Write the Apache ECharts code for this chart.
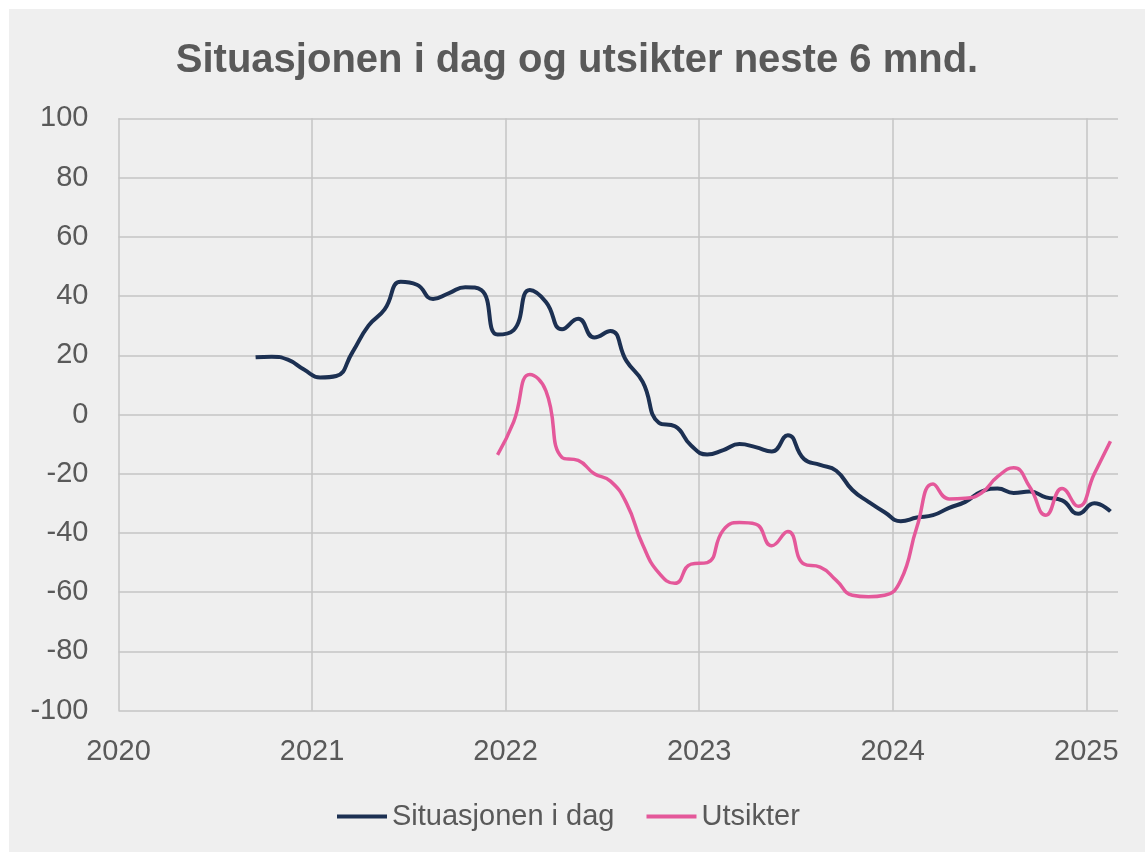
<!DOCTYPE html>
<html>
<head>
<meta charset="utf-8">
<script src="https://cdn.jsdelivr.net/npm/echarts@6/dist/echarts.min.js"></script>
<style>
  html, body { margin: 0; padding: 0; background: #ffffff; }
  #chart { position: absolute; left: 9px; top: 9px; width: 1136px; height: 843px; }
</style>
</head>
<body>
<div id="chart"></div>
<script>
// måneder og verdier lest av figuren
const dagMonths = [
  '2020-09','2020-10','2020-11','2020-12',
  '2021-01','2021-02','2021-03','2021-04','2021-05','2021-06','2021-07','2021-08','2021-09','2021-10','2021-11','2021-12',
  '2022-01','2022-02','2022-03','2022-04','2022-05','2022-06','2022-07','2022-08','2022-09','2022-10','2022-11','2022-12',
  '2023-01','2023-02','2023-03','2023-04','2023-05','2023-06','2023-07','2023-08','2023-09','2023-10','2023-11','2023-12',
  '2024-01','2024-02','2024-03','2024-04','2024-05','2024-06','2024-07','2024-08','2024-09','2024-10','2024-11','2024-12',
  '2025-01','2025-02'
]
const dagValues = [
  19.3, 19.5, 18.5, 15.2,
  12.5, 13, 21, 30, 35.5, 44.8, 43.8, 39, 41, 43, 42, 27,
  28.5, 42, 38, 28.8, 32.3, 26, 28.2, 18, 11, -2.8, -4, -10.5,
  -13.5, -12, -10, -11, -12.5, -7, -15, -17, -19, -25.5, -29.5, -33,
  -36, -34.8, -34, -31.5, -29.5, -26, -25, -26.5, -26, -28, -29, -33.5,
  -30, -32.7
]
const utsiktMonths = [
  '2021-12',
  '2022-01','2022-02','2022-03','2022-04','2022-05','2022-06','2022-07','2022-08','2022-09','2022-10','2022-11','2022-12',
  '2023-01','2023-02','2023-03','2023-04','2023-05','2023-06','2023-07','2023-08','2023-09','2023-10','2023-11','2023-12',
  '2024-01','2024-02','2024-03','2024-04','2024-05','2024-06','2024-07','2024-08','2024-09','2024-10','2024-11','2024-12',
  '2025-01','2025-02'
]
const utsiktValues = [
  -13.6,
  -2.5, 13.5, 8, -14.5, -15.5, -20, -22.5, -30, -44, -53.5, -57, -50.5,
  -50, -39, -36.5, -37, -44.3, -39.5, -50.5, -51.5, -56, -61, -61.5, -61,
  -56, -38, -23.5, -28.5, -28.3, -26.5, -21, -18, -24.5, -34, -25, -31,
  -20, -9
]
const yearTicks = [2020, 2021, 2022, 2023, 2024, 2025]
const yTicks = [-100, -80, -60, -40, -20, 0, 20, 40, 60, 80, 100]

// midt i måneden som desimalår
function toYear (m) {
  const parts = m.split('-')
  return Number(parts[0]) + (Number(parts[1]) - 0.5) / 12
}
function pairs (months, values) {
  return months.map(function (m, i) { return [toYear(m), values[i]] })
}

const textColor = '#595959'
const gridColor = '#c4c4c4'
const fontFamily = '"Liberation Sans", Arial, sans-serif'

const chart = echarts.init(document.getElementById('chart'))
const option = {
  backgroundColor: '#efefef',
  animation: false,
  title: {
    text: 'Situasjonen i dag og utsikter neste 6 mnd.',
    left: 'center',
    top: 27,
    textStyle: {
      color: textColor,
      fontSize: 40,
      fontWeight: 'bold',
      fontFamily: fontFamily
    }
  },
  legend: {
    left: 323,
    top: 788,
    icon: 'rect',
    itemWidth: 50,
    itemHeight: 4,
    itemGap: 32,
    textStyle: {
      color: textColor,
      fontSize: 29,
      fontFamily: fontFamily
    },
    data: ['Situasjonen i dag', 'Utsikter']
  },
  grid: {
    left: 109.5,
    right: 27,
    top: 109.3,
    bottom: 141.3,
    containLabel: false
  },
  xAxis: {
    type: 'value',
    min: yearTicks[0],
    max: 2025.164,
    interval: 1,
    axisLine: { show: false },
    axisTick: { show: false },
    splitLine: {
      show: true,
      showMaxLine: false,
      lineStyle: { color: gridColor, width: 1.5 }
    },
    axisLabel: {
      color: textColor,
      fontSize: 29,
      fontFamily: fontFamily,
      margin: 27,
      showMaxLabel: false,
      formatter: function (v) {
        return yearTicks.indexOf(v) >= 0 ? String(v) : ''
      }
    }
  },
  yAxis: {
    type: 'value',
    min: yTicks[0],
    max: yTicks[yTicks.length - 1],
    interval: 20,
    axisLine: { show: false },
    axisTick: { show: false },
    splitLine: {
      show: true,
      lineStyle: { color: gridColor, width: 1.5 }
    },
    axisLabel: {
      color: textColor,
      fontSize: 29,
      fontFamily: fontFamily,
      margin: 30
    }
  },
  series: [
    {
      name: 'Situasjonen i dag',
      type: 'line',
      smooth: 0.5,
      symbol: 'none',
      data: pairs(dagMonths, dagValues),
      lineStyle: { color: '#1c3052', width: 4 },
      itemStyle: { color: '#1c3052' }
    },
    {
      name: 'Utsikter',
      type: 'line',
      smooth: 0.5,
      symbol: 'none',
      data: pairs(utsiktMonths, utsiktValues),
      lineStyle: { color: '#e4589a', width: 3.5 },
      itemStyle: { color: '#e4589a' }
    }
  ]
}
chart.setOption(option)
</script>
</body>
</html>
